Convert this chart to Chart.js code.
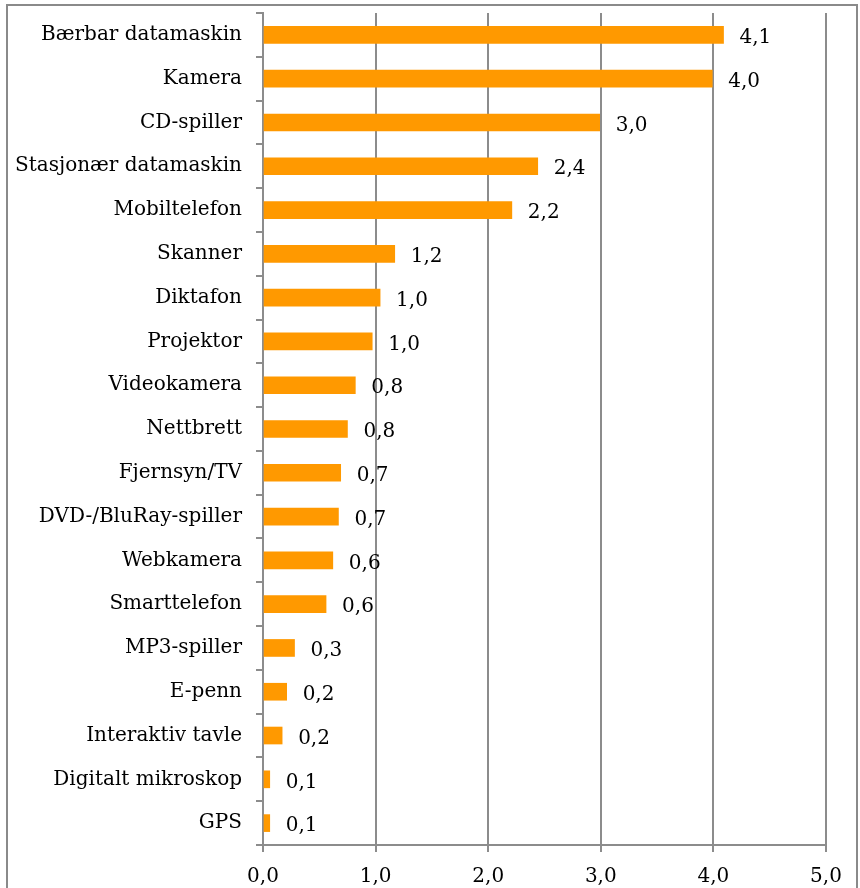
<!DOCTYPE html>
<html lang="no">
<head>
<meta charset="UTF-8" />
<title>Utstyr</title>
<style>
  body { margin: 0; background: #fff; }
  #wrap { width: 860px; height: 888px; position: relative; }
</style>
</head>
<body>
<div id="wrap"><canvas id="chart" width="860" height="888"></canvas></div>
<script src="https://cdn.jsdelivr.net/npm/chart.js"></script>
<script>
const categories = [
  'Bærbar datamaskin', 'Kamera', 'CD-spiller', 'Stasjonær datamaskin', 'Mobiltelefon',
  'Skanner', 'Diktafon', 'Projektor', 'Videokamera', 'Nettbrett', 'Fjernsyn/TV',
  'DVD-/BluRay-spiller', 'Webkamera', 'Smarttelefon', 'MP3-spiller', 'E-penn',
  'Interaktiv tavle', 'Digitalt mikroskop', 'GPS'
];
const values = [
  4.09, 3.99, 2.99, 2.44, 2.21,
  1.17, 1.04, 0.97, 0.82, 0.75, 0.69,
  0.67, 0.62, 0.56, 0.28, 0.21,
  0.17, 0.06, 0.06
];
const xTicks = [0, 1, 2, 3, 4, 5];

const FONT = "'DejaVu Serif', serif";
const FSIZE = 20;
const GRID = '#8c8c8c';
const fmt = v => v.toFixed(1).replace('.', ',');

// value labels to the right of each bar
const valueLabels = {
  id: 'valueLabels',
  afterDatasetsDraw(chart) {
    const ctx = chart.ctx;
    const meta = chart.getDatasetMeta(0);
    ctx.save();
    ctx.font = FSIZE + 'px ' + FONT;
    ctx.fillStyle = '#000';
    ctx.textBaseline = 'middle';
    ctx.textAlign = 'left';
    meta.data.forEach((bar, i) => {
      ctx.fillText(fmt(values[i]), bar.x + 16, bar.y + 3);
    });
    ctx.restore();
  }
};

// outer frame
const frame = {
  id: 'frame',
  beforeDraw(chart) {
    const ctx = chart.ctx;
    ctx.save();
    ctx.strokeStyle = '#8a8a8a';
    ctx.lineWidth = 2;
    ctx.strokeRect(7, 5, 850, 900);
    ctx.restore();
  }
};

new Chart(document.getElementById('chart'), {
  type: 'bar',
  data: {
    labels: categories,
    datasets: [{
      data: values,
      backgroundColor: '#ff9900',
      barThickness: 17
    }]
  },
  options: {
    indexAxis: 'y',
    responsive: false,
    animation: false,
    layout: { padding: { top: 13, right: 34, left: 0, bottom: 0 } },
    plugins: { legend: { display: false }, tooltip: { enabled: false } },
    scales: {
      x: {
        min: 0, max: 5,
        afterBuildTicks: s => { s.ticks = xTicks.map(v => ({ value: v })); },
        afterFit: s => { s.height = 43; },
        grid: { color: GRID, lineWidth: 2, tickLength: 7, drawTicks: true },
        border: { color: GRID, width: 2 },
        ticks: {
          color: '#000', padding: 13,
          font: { family: FONT, size: FSIZE },
          callback: v => fmt(v)
        }
      },
      y: {
        offset: true,
        // fixed label column, and no extra half-line padding at top/bottom
        afterFit: s => { s.width = 263; s.paddingTop = 0; s.paddingBottom = 0; },
        grid: { offset: true, drawOnChartArea: false, color: GRID, lineWidth: 2, tickLength: 7 },
        border: { color: GRID, width: 2 },
        ticks: {
          color: '#000', padding: 14,
          font: { family: FONT, size: FSIZE }
        }
      }
    }
  },
  plugins: [frame, valueLabels]
});
</script>
</body>
</html>
